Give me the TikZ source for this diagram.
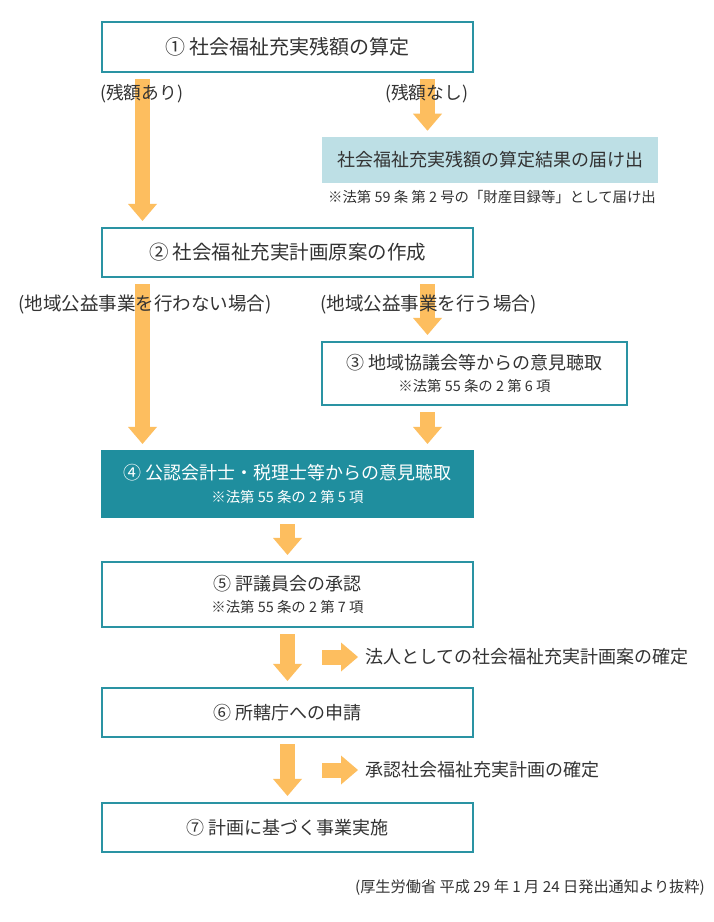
\documentclass[tikz,border=0pt]{standalone}
\usepackage{fontspec}
\setmainfont{Noto Sans CJK JP}
\usetikzlibrary{arrows.meta}
\definecolor{tealline}{HTML}{2A93A3}
\definecolor{tealfill}{HTML}{1F8E9E}
\definecolor{lblue}{HTML}{BDDFE5}
\definecolor{orng}{HTML}{FDBE5F}
\definecolor{txt}{HTML}{333333}
\begin{document}
\begin{tikzpicture}[x=0.75pt,y=-0.75pt,
  box/.style={draw=tealline, line width=1.6pt, fill=white, minimum width=278.25pt,
    inner sep=0pt, align=center, text=txt, font=\fontsize{13.5}{18}\selectfont},
  bigbox/.style={box, font=\fontsize{15}{18}\selectfont},
  fillbox/.style={box, fill=tealfill, draw=tealfill, text=white},
  bluebox/.style={fill=lblue, minimum width=252pt, minimum height=34.5pt, inner sep=0pt,
    text=txt, font=\fontsize{13.5}{18}\selectfont},
  lbl/.style={inner sep=0pt, text=txt, font=\fontsize{13.5}{16}\selectfont},
  notetxt/.style={inner sep=0pt, text=txt, font=\fontsize{10.8}{12}\selectfont},
  fat/.style={draw=orng, line width=11.25pt,
    -{Triangle[width=21.75pt,length=12.75pt,line width=0pt]}},
  gap/.style={shorten <=4.5pt, shorten >=4.5pt}
]
\useasboundingbox[fill=white] (0,0) rectangle (714,922);
\newcommand\nsz{\fontsize{10.8}{12}\selectfont}

% boxes
\node[bigbox, minimum height=37.5pt] (b1) at (287.5,47) {① 社会福祉充実残額の算定};
\node[bluebox] (bl) at (490,160) {社会福祉充実残額の算定結果の届け出};
\node[notetxt] (n59) at (492,197) {※法第 59 条 第 2 号の「財産目録等」として届け出};
\node[bigbox, font=\fontsize{14.6}{18}\selectfont, minimum height=36.75pt] (b2) at (287.5,252.5) {② 社会福祉充実計画原案の作成};
\node[box, minimum width=228.75pt, minimum height=47.25pt] (b3) at (474.5,373.5)
  {③ 地域協議会等からの意見聴取\\[-2pt]{\nsz ※法第 55 条の 2 第 6 項}};
\node[fillbox, minimum height=49.5pt] (b4) at (287.5,484)
  {\raisebox{-2pt}{④ 公認会計士・税理士等からの意見聴取}\\[1pt]{\nsz ※法第 55 条の 2 第 5 項}};
\node[box, minimum height=48.75pt] (b5) at (287.5,594.5)
  {\raisebox{-2pt}{⑤ 評議員会の承認}\\[1pt]{\nsz ※法第 55 条の 2 第 7 項}};
\node[box, minimum height=36.75pt] (b6) at (287.5,712.5) {⑥ 所轄庁への申請};
\node[box, minimum height=36.75pt] (b7) at (287.5,827.5) {⑦ 計画に基づく事業実施};

% column positions
\coordinate (L) at (142.5,0);
\coordinate (R) at (427.5,0);
\coordinate (M) at (287.5,0);
\coordinate (s1) at (322,657);
\coordinate (s2) at (322,770);

% side texts
\node[lbl, anchor=west] (t1) at (365,657) {法人としての社会福祉充実計画案の確定};
\node[lbl, anchor=west] (t2) at (365,770) {承認社会福祉充実計画の確定};

% arrows
\draw[fat, gap] (b1.south -| L) -- (b2.north -| L);
\draw[fat, gap] (b1.south -| R) -- (bl.north -| R);
\draw[fat, gap] (b2.south -| L) -- (b4.north -| L);
\draw[fat, gap] (b2.south -| R) -- (b3.north -| R);
\draw[fat, gap] (b3.south -| R) -- (b4.north -| R);
\draw[fat, gap] (b4.south -| M) -- (b5.north -| M);
\draw[fat, gap] (b5.south -| M) -- (b6.north -| M);
\draw[fat, gap] (b6.south -| M) -- (b7.north -| M);
\draw[fat, shorten >=5.25pt] (s1) -- (t1.west);
\draw[fat, shorten >=5.25pt] (s2) -- (t2.west);

% branch labels (over the arrows)
\node[lbl, anchor=west, font=\fontsize{13.3}{16}\selectfont] (la) at (100,94) {(残額あり)};
\node[lbl, anchor=west, font=\fontsize{13.3}{16}\selectfont] (lb) at (385,94) {(残額なし)};
\node[lbl, anchor=west, font=\fontsize{13.9}{16}\selectfont] (lc) at (18,305) {(地域公益事業を行わない場合)};
\node[lbl, anchor=west, font=\fontsize{13.9}{16}\selectfont] (ld) at (320,305) {(地域公益事業を行う場合)};

% footer
\node[notetxt, anchor=east, font=\fontsize{11.4}{12}\selectfont] (src) at (705,888) {(厚生労働省 平成 29 年 1 月 24 日発出通知より抜粋)};
\end{tikzpicture}
\end{document}
